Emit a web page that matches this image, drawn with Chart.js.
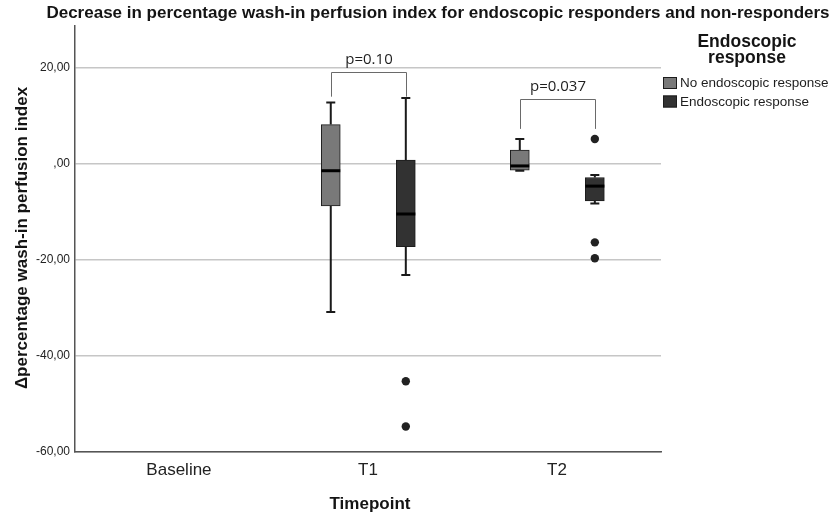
<!DOCTYPE html>
<html>
<head>
<meta charset="utf-8">
<title>Wash-in perfusion index by endoscopic response</title>
<script src="https://cdn.jsdelivr.net/npm/chart.js@4/dist/chart.umd.min.js"></script>
<style>
  html, body { margin: 0; padding: 0; background: #ffffff; }
  #wrap { width: 834px; height: 516px; position: relative; }
</style>
</head>
<body>
<div id="wrap"><canvas id="chart"></canvas></div>
<script>
// Timepoints on the x axis (no change values exist at Baseline)
const timepoints = ['Baseline', 'T1', 'T2'];
const groupNames = ['No endoscopic response', 'Endoscopic response'];

// Box-plot summaries of the change in wash-in perfusion index (%)
const noRespMin    = [null, -30.9, -1.5];
const noRespQ1     = [null,  -8.8, -1.4];
const noRespMedian = [null,  -1.5, -0.5];
const noRespQ3     = [null,   8.1,  2.8];
const noRespMax    = [null,  12.7,  5.1];
const noRespOutliers = [[], [], []];

const respMin    = [null, -23.2, -8.3];
const respQ1     = [null, -17.3, -7.8];
const respMedian = [null, -10.5, -4.7];
const respQ3     = [null,   0.7, -2.9];
const respMax    = [null,  13.6, -2.4];
const respOutliers = [[], [-45.3, -54.7], [5.1, -16.4, -19.7]];

// Group comparison labels per timepoint
const pLabels = [null, 'p=0.10', 'p=0.037'];

// y-axis tick values
const yTicks = [-60, -40, -20, 0, 20];

// ---- styling / layout constants ----
const GROUP_OFFSET = [-0.197, 0.2];
const FILLS = ['#797979', '#323232'];
const BOX_EDGE = '#1c1c1c';
const BRACKET_TOP = [null, 19.1, 13.4];
const BRACKET_LEG = [null, 13.9, 7.2];
const FONT = '"Liberation Sans", Arial, sans-serif';

const groups = [
  { min: noRespMin, q1: noRespQ1, med: noRespMedian, q3: noRespQ3, max: noRespMax, out: noRespOutliers },
  { min: respMin, q1: respQ1, med: respMedian, q3: respQ3, max: respMax, out: respOutliers }
];

function boxData(g, gi) {
  const pts = [];
  timepoints.forEach((t, i) => {
    if (g.q1[i] !== null) pts.push({ x: i + GROUP_OFFSET[gi], y: [g.q1[i], g.q3[i]] });
  });
  return pts;
}
function outlierData(g, gi) {
  const pts = [];
  g.out.forEach((vals, i) => vals.forEach(v => pts.push({ x: i + GROUP_OFFSET[gi], y: v })));
  return pts;
}

const fmt = v => (v === 0 ? ',00' : v.toFixed(2).replace('.', ','));

// Whiskers go behind the boxes; medians and caps on top of them
const boxExtras = {
  id: 'boxExtras',
  beforeDatasetsDraw(chart) {
    const { ctx, scales: { x, y } } = chart;
    ctx.save();
    ctx.strokeStyle = '#1a1a1a';
    ctx.lineWidth = 2;
    groups.forEach((g, gi) => {
      timepoints.forEach((t, i) => {
        if (g.q1[i] === null) return;
        const px = x.getPixelForValue(i + GROUP_OFFSET[gi]);
        ctx.beginPath();
        ctx.moveTo(px, y.getPixelForValue(g.q3[i]));
        ctx.lineTo(px, y.getPixelForValue(g.max[i]));
        ctx.moveTo(px, y.getPixelForValue(g.q1[i]));
        ctx.lineTo(px, y.getPixelForValue(g.min[i]));
        ctx.stroke();
      });
    });
    ctx.restore();
  },
  afterDatasetsDraw(chart) {
    const { ctx, scales: { x, y } } = chart;
    ctx.save();
    groups.forEach((g, gi) => {
      timepoints.forEach((t, i) => {
        if (g.q1[i] === null) return;
        const px = x.getPixelForValue(i + GROUP_OFFSET[gi]);
        ctx.strokeStyle = '#1a1a1a';
        ctx.lineWidth = 2;
        ctx.beginPath();
        ctx.moveTo(px - 4.5, y.getPixelForValue(g.max[i]));
        ctx.lineTo(px + 4.5, y.getPixelForValue(g.max[i]));
        ctx.moveTo(px - 4.5, y.getPixelForValue(g.min[i]));
        ctx.lineTo(px + 4.5, y.getPixelForValue(g.min[i]));
        ctx.stroke();
        ctx.strokeStyle = '#000000';
        ctx.lineWidth = 3;
        ctx.beginPath();
        ctx.moveTo(px - 9.5, y.getPixelForValue(g.med[i]));
        ctx.lineTo(px + 9.5, y.getPixelForValue(g.med[i]));
        ctx.stroke();
      });
    });
    // comparison brackets
    ctx.strokeStyle = '#6a6a6a';
    ctx.lineWidth = 1;
    ctx.fillStyle = '#1e1e1e';
    ctx.font = '15px "Open Sans", sans-serif';
    ctx.textAlign = 'center';
    ctx.textBaseline = 'alphabetic';
    pLabels.forEach((lab, i) => {
      if (!lab) return;
      const xl = Math.round(x.getPixelForValue(i + GROUP_OFFSET[0])) + 0.5;
      const xr = Math.round(x.getPixelForValue(i + GROUP_OFFSET[1])) + 0.5;
      const yt = Math.round(y.getPixelForValue(BRACKET_TOP[i])) + 0.5;
      const yb = y.getPixelForValue(BRACKET_LEG[i]);
      ctx.beginPath();
      ctx.moveTo(xl, yb);
      ctx.lineTo(xl, yt);
      ctx.lineTo(xr, yt);
      ctx.lineTo(xr, yb);
      ctx.stroke();
      ctx.fillText(lab, (xl + xr) / 2, yt - 9);
    });
    ctx.restore();
  },
  afterDraw(chart) {
    const { ctx, chartArea } = chart;
    ctx.save();
    ctx.fillStyle = '#141414';
    ctx.textAlign = 'center';
    ctx.textBaseline = 'middle';
    // chart title
    ctx.font = 'bold 17px ' + FONT;
    ctx.fillText('Decrease in percentage wash-in perfusion index for endoscopic responders and non-responders', 438, 13);
    // x axis title
    ctx.fillText('Timepoint', (chartArea.left + chartArea.right) / 2 + 2, 504);
    // y axis title
    ctx.save();
    ctx.translate(22, 238);
    ctx.rotate(-Math.PI / 2);
    ctx.fillText('\u0394percentage wash-in perfusion index', 0, 0);
    ctx.restore();
    // legend
    ctx.font = 'bold 17.5px ' + FONT;
    ctx.fillText('Endoscopic', 747, 42);
    ctx.fillText('response', 747, 58);
    ctx.font = '13.5px ' + FONT;
    ctx.textAlign = 'left';
    groupNames.forEach((name, gi) => {
      const cy = 83 + gi * 18.5;
      ctx.fillStyle = FILLS[gi];
      ctx.fillRect(663, cy - 6, 14, 12);
      ctx.strokeStyle = BOX_EDGE;
      ctx.lineWidth = 1;
      ctx.strokeRect(663.5, cy - 5.5, 13, 11);
      ctx.fillStyle = '#1e1e1e';
      ctx.fillText(name, 680, cy + 0.5);
    });
    ctx.restore();
  }
};

const datasets = [];
groups.forEach((g, gi) => {
  datasets.push({
    type: 'bar',
    label: groupNames[gi],
    data: boxData(g, gi),
    backgroundColor: FILLS[gi],
    borderColor: BOX_EDGE,
    borderWidth: 1,
    borderSkipped: false,
    grouped: false,
    maxBarThickness: 19,
    barPercentage: 1,
    categoryPercentage: 1,
    order: 2
  });
});
groups.forEach((g, gi) => {
  datasets.push({
    type: 'scatter',
    label: groupNames[gi] + ' outliers',
    data: outlierData(g, gi),
    backgroundColor: '#222222',
    borderWidth: 0,
    pointRadius: 4.2,
    showLine: false,
    order: 1
  });
});

new Chart(document.getElementById('chart'), {
  type: 'bar',
  data: { datasets },
  plugins: [boxExtras],
  options: {
    responsive: true,
    maintainAspectRatio: false,
    animation: false,
    layout: { padding: { top: 26, right: 173, bottom: 0, left: 0 } },
    plugins: {
      legend: { display: false },
      title: { display: false },
      tooltip: { enabled: false }
    },
    scales: {
      x: {
        type: 'linear',
        offset: false,
        min: -0.55,
        max: 2.55,
        afterBuildTicks: s => { s.ticks = timepoints.map((t, i) => ({ value: i })); },
        afterFit: s => { s.height = 64; },
        ticks: {
          callback: v => timepoints[v],
          font: { family: FONT, size: 17 },
          color: '#222222',
          padding: 8,
          maxRotation: 0
        },
        grid: { display: false, drawTicks: false },
        border: { display: true, color: '#555555', width: 1.5 }
      },
      y: {
        type: 'linear',
        min: -60,
        max: 28.6,
        afterBuildTicks: s => { s.ticks = yTicks.map(v => ({ value: v })); },
        afterFit: s => { s.width = 75; },
        ticks: {
          callback: v => fmt(v),
          font: { family: FONT, size: 12 },
          color: '#222222',
          padding: 5
        },
        grid: { color: '#c6c6c6', lineWidth: 1.5, drawTicks: false },
        border: { display: true, color: '#555555', width: 1.5 }
      }
    }
  }
});
</script>
</body>
</html>
